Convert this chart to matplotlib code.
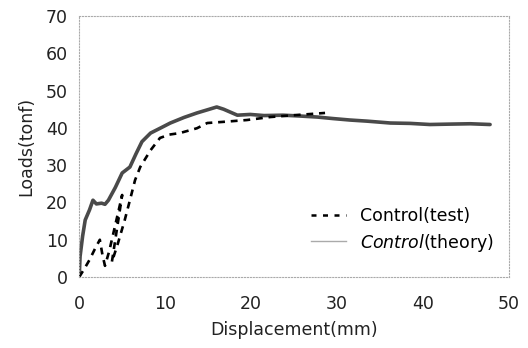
import matplotlib.pyplot as plt
from matplotlib.lines import Line2D

# Control(theory) curve
theory_x = [0, 0.1, 0.4, 0.7, 1.2, 1.6, 2.0, 2.6, 3.0, 3.4, 4.2, 5.0, 5.9, 6.6, 7.3,
            8.3, 9.5, 10.6, 12.2, 13.7, 15.0, 16.0, 16.8, 17.6, 18.4, 19.9, 21.5,
            23.7, 25.5, 27.7, 29.5, 31.5, 33.5, 36.2, 38.5, 40.8, 43.0, 45.5, 47.8]
theory_y = [0, 5.5, 11.0, 15.3, 18.0, 20.6, 19.6, 19.8, 19.5, 20.6, 24.0, 27.9, 29.5,
            33.0, 36.3, 38.6, 40.0, 41.3, 42.8, 44.0, 44.9, 45.6, 45.0, 44.2, 43.4,
            43.6, 43.3, 43.4, 43.2, 42.9, 42.5, 42.1, 41.8, 41.3, 41.2, 40.9, 41.0,
            41.1, 40.9]

# Control(test) curve with its loading/unloading cycles
test_x = [0, 0.6, 1.2, 1.8, 2.4, 2.7, 3.0, 3.5, 4.0, 4.5, 5.0, 4.6, 4.2, 3.8, 4.5,
          5.3, 5.9, 6.5, 7.1, 8.3, 9.4, 10.5, 11.7, 13.7, 14.9, 16.7, 19.5, 22.2,
          25.0, 28.6]
test_y = [0, 2.2, 4.6, 7.4, 10.0, 6.0, 3.0, 7.0, 12.0, 17.0, 22.0, 16.0, 10.0, 4.0,
          9.0, 15.3, 20.6, 26.0, 29.5, 34.0, 37.3, 38.2, 38.6, 39.9, 41.3, 41.6,
          42.1, 42.9, 43.4, 44.0]

x_ticks = [0, 10, 20, 30, 40, 50]
y_ticks = [0, 10, 20, 30, 40, 50, 60, 70]

plt.rcParams['font.family'] = ['DejaVu Sans']

fig = plt.figure(figsize=(5.28, 3.48), dpi=100)
ax = fig.add_axes([0.150, 0.204, 0.814, 0.750])

ax.plot(theory_x, theory_y, color='#4a4a4a', lw=2.6, solid_capstyle='round')
ax.plot(test_x, test_y, color='black', lw=1.9, linestyle=(0, (2.6, 2.2)))

ax.set_xlim(0, 50)
ax.set_ylim(0, 70)
ax.set_xticks(x_ticks)
ax.set_yticks(y_ticks)
ax.tick_params(length=0, labelsize=12.5, colors='#222222')
ax.tick_params(axis='x', pad=13)
ax.tick_params(axis='y', pad=8)

for side in ['left', 'right', 'top', 'bottom']:
    ax.spines[side].set_color('#aaaaaa')
    ax.spines[side].set_linewidth(0.8)
    ax.spines[side].set_linestyle(':')

ax.set_xlabel('Displacement(mm)', fontsize=12.5, color='#222222', labelpad=6)
ax.set_ylabel('Loads(tonf)', fontsize=12.5, color='#222222', labelpad=8)

handles = [
    Line2D([], [], color='black', lw=1.8, linestyle=(0, (2.0, 2.6))),
    Line2D([], [], color='#aaaaaa', lw=1.0),
]
labels = ['Control(test)', r'$\it{Control}$(theory)']
ax.legend(handles, labels, loc='lower right', frameon=False, fontsize=12.5,
          handlelength=2.0, handletextpad=0.8, labelspacing=0.35,
          bbox_to_anchor=(1.0, 0.03))

fig.savefig('out.png', dpi=100)
